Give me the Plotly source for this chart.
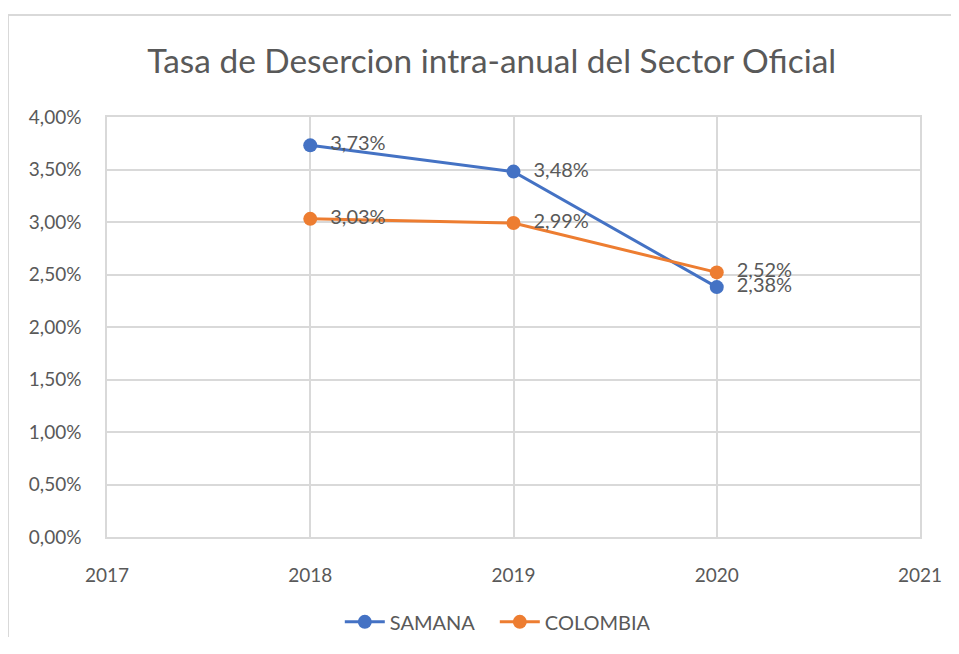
import plotly.graph_objects as go

years = [2018, 2019, 2020]
samana = [0.0373, 0.0348, 0.0238]
colombia = [0.0303, 0.0299, 0.0252]

TEXT = "#595959"
GRID = "#d9d9d9"
FONT = "Lato, Calibri, 'Noto Sans', sans-serif"

fig = go.Figure()
for name, values, color in [("SAMANA", samana, "#4472C4"), ("COLOMBIA", colombia, "#ED7D31")]:
    fig.add_trace(
        go.Scatter(
            x=years,
            y=values,
            name=name,
            mode="lines+markers+text",
            line=dict(color=color, width=3),
            marker=dict(color=color, size=14),
            texttemplate="  %{y:.2%}",
            textposition="middle right",
            textfont=dict(size=20, color=TEXT, family=FONT),
            hoverinfo="x+y+name",
        )
    )

axis_common = dict(
    showgrid=True,
    gridcolor=GRID,
    gridwidth=1.5,
    zeroline=False,
    showline=True,
    linecolor=GRID,
    linewidth=1.5,
    mirror=True,
    tickfont=dict(size=19, color=TEXT, family=FONT),
    ticks="",
)

# page body has an 8px margin; keep the figure inside the window so nothing scrolls
fig.update_layout(
    width=943,
    height=629,
    margin=dict(l=99, r=31, t=109, b=100, autoexpand=False),
    paper_bgcolor="white",
    plot_bgcolor="white",
    separators=",.",
    font=dict(family=FONT, color=TEXT),
    title=dict(
        text="Tasa de Desercion intra-anual del Sector Oficial",
        x=0.513,
        xanchor="center",
        y=0.916,
        yanchor="middle",
        font=dict(size=33.4, color=TEXT, family=FONT),
    ),
    xaxis=dict(range=[2017, 2021], dtick=1, tick0=2017, ticklabelstandoff=20, **axis_common),
    yaxis=dict(range=[0, 0.04], dtick=0.005, tickformat=".2%", ticklabelstandoff=20, **axis_common),
    showlegend=True,
    legend=dict(
        orientation="h",
        x=0.477,
        xanchor="center",
        y=-0.202,
        yanchor="middle",
        font=dict(size=20, color=TEXT, family=FONT),
        itemwidth=40,
        entrywidth=100,
    ),
    shapes=[
        dict(type="line", xref="paper", yref="paper", x0=-0.1218, x1=1.06, y0=1.2429, y1=1.2429,
             line=dict(color=GRID, width=2)),
        dict(type="line", xref="paper", yref="paper", x0=-0.1218, x1=-0.1218, y0=1.2429, y1=-0.3,
             line=dict(color=GRID, width=2)),
    ],
)

fig.write_html("out.html")
